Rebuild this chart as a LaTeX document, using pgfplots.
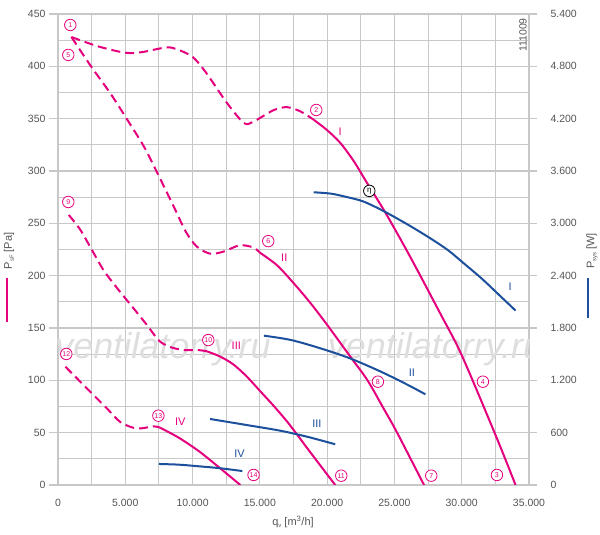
\documentclass[border=0pt]{standalone}
\usepackage{pgfplots}
\pgfplotsset{compat=1.18}
\usepackage{fontspec}
\setmainfont{Liberation Sans}
\definecolor{mag}{HTML}{E5007D}
\definecolor{blu}{HTML}{1C4F9C}
\definecolor{gridc}{HTML}{C8C8C8}
\definecolor{txt}{HTML}{555555}
\tikzset{
 clab/.style={draw=mag, fill=white, circle, inner sep=0pt, minimum size=11.5pt, line width=0.8pt, text=mag, font=\fontsize{7}{7}\selectfont},
 elab/.style={draw=black, fill=white, circle, inner sep=0pt, minimum size=11.5pt, line width=0.8pt, text=black, font=\fontsize{8}{8}\selectfont},
 rlab/.style={font=\fontsize{11}{11}\selectfont},
}
\pgfplotsset{
 common/.style={
  scale only axis, width=471pt, height=471pt,
  xmin=0, xmax=35000, scaled ticks=false,
  /pgf/number format/1000 sep={.}, /pgf/number format/assume math mode=true,
  tick label style={font=\fontsize{10.5}{12}\selectfont, text=txt},
  axis line style={draw=none},
  tick align=outside,
 },
 pk/.style={mag, line width=2pt, smooth, no markers},
 pkd/.style={mag, line width=2pt, smooth, no markers, dash pattern=on 9pt off 5pt},
 bl/.style={blu, line width=2pt, smooth, no markers},
}
\begin{document}
\begin{tikzpicture}[x=1pt,y=1pt]
\begin{axis}[common, name=ax,
 ymin=0, ymax=450,
 xtick={0,5000,...,35000}, minor xtick={2500,7500,...,32500},
 ytick={0,50,...,450}, minor ytick={25,75,...,425},
 grid=both, major grid style={gridc, line width=1.1pt}, minor grid style={gridc, line width=1.1pt},
 ytick pos=left, xtick pos=bottom,
 x tick style={draw=none}, y tick style={gridc, line width=1.1pt},
 major tick length=9pt, minor tick length=0pt,
 xticklabel style={yshift=-2pt},
]
\node[font=\itshape\fontsize{36}{36}\selectfont, text=black!13] at (axis cs:7800,130) {ventilatorry.ru};
\node[font=\itshape\fontsize{36}{36}\selectfont, text=black!13] at (axis cs:28050,130) {ventilatorry.ru};
% curve I
\addplot[pkd] coordinates {(1000,428) (3000,419) (5000,413) (6200,413.5) (8000,418) (8800,416.5) (10000,409) (11000,394) (12500,366) (13800,346) (14500,347) (16000,358) (17000,361) (18000,357) (19000,349)};
\addplot[pk] coordinates {(19000,349) (20000,339) (21000,326.5) (22000,309) (22850,291) (24200,263) (25400,236) (26550,209) (28400,164) (30000,124) (32600,45) (34000,0)};
% curve II
\addplot[pkd] coordinates {(1000,428) (2400,401) (3900,374) (5100,350) (6400,323) (7500,295) (8600,266) (9500,242) (10300,228) (11300,221) (12300,223) (13500,229) (14500,227) (15000,222)};
\addplot[pk] coordinates {(15000,222) (16270,210) (17500,193) (18750,174) (20000,153) (21700,123) (23000,100) (24200,73) (25200,50) (27200,0)};
% curve III
\addplot[pkd] coordinates {(800,258) (1650,244) (2500,225) (3400,205) (4400,188) (5600,169) (6600,153) (7500,138) (8300,132) (9300,129) (10300,129) (11000,128)};
\addplot[pk] coordinates {(11000,128) (12000,123) (13000,115.5) (14000,104) (15000,90) (16000,76) (17000,61) (17600,51) (19000,27) (20600,0)};
% curve IV
\addplot[pkd] coordinates {(550,113) (1400,102) (2400,89) (3650,73) (4650,60) (5850,54) (7100,56) (7550,55)};
\addplot[pk] coordinates {(7550,55) (9000,45) (10500,32) (12000,16.5) (13550,0)};
% labels
\node[clab] at (axis cs:914,439.5) {1};
\node[clab] at (axis cs:766,410.9) {5};
\node[clab] at (axis cs:19193,358.3) {2};
\node[clab] at (axis cs:15625,233) {6};
\node[clab] at (axis cs:766,270.4) {9};
\node[clab] at (axis cs:11168,138.5) {10};
\node[clab] at (axis cs:617,125.2) {12};
\node[clab] at (axis cs:7459,66.2) {13};
\node[clab] at (axis cs:14532,9.6) {14};
\node[clab] at (axis cs:21048,8.9) {11};
\node[clab] at (axis cs:27737,8.9) {7};
\node[clab] at (axis cs:32617,9.6) {3};
\node[clab] at (axis cs:23774,98.7) {8};
\node[clab] at (axis cs:31575,98.7) {4};
\node[elab] at (axis cs:23134,281) {η};
\node[rlab, text=mag] at (axis cs:20975,337.3) {I};
\node[rlab, text=mag] at (axis cs:16815,217) {II};
\node[rlab, text=mag] at (axis cs:13250,132.8) {III};
\node[rlab, text=mag] at (axis cs:9085,60.5) {IV};
\node[rlab, text=blu] at (axis cs:33605,189.5) {I};
\node[rlab, text=blu] at (axis cs:26300,107.7) {II};
\node[rlab, text=blu] at (axis cs:19243,59) {III};
\node[rlab, text=blu] at (axis cs:13497,29.6) {IV};
\end{axis}
\begin{axis}[common,
 at={(ax.south west)}, anchor=south west,
 ymin=0, ymax=5400,
 xtick=\empty, ytick pos=right,
 ytick={0,600,...,5400},
 y tick style={gridc, line width=1.1pt}, major tick length=8pt,
 yticklabel style={xshift=10pt},
]
\addplot[bl] coordinates {(19000,3356) (20300,3340) (21500,3300) (22700,3250) (24200,3140) (26000,2985) (27650,2830) (29000,2690) (30150,2542) (31500,2365) (32600,2205) (34000,2000)};
\addplot[bl] coordinates {(15300,1712) (17300,1663) (19500,1567) (21700,1452) (24000,1299) (26000,1147) (27300,1040)};
\addplot[bl] coordinates {(11300,757) (14000,688) (16500,623) (18500,554) (20600,467)};
\addplot[bl] coordinates {(7500,241) (9000,233) (10500,214) (12000,193) (13700,160)};
\end{axis}
\begin{scope}[shift={(ax.south west)}]
\node[rotate=90, text=txt, font=\fontsize{11}{12}\selectfont] at (-49,234) {P\raisebox{-2pt}{\fontsize{6}{6}\selectfont sF} [Pa]};
\draw[mag, line width=1.6pt] (-51,207) -- (-51,163);
\node[rotate=90, text=txt, font=\fontsize{11}{12}\selectfont] at (534,234) {P\raisebox{-2pt}{\fontsize{6}{6}\selectfont sys} [W]};
\draw[blu, line width=1.6pt] (530,207) -- (530,167);
\node[text=txt, font=\fontsize{11}{12}\selectfont] at (235,-37) {q\raisebox{-2pt}{\fontsize{6}{6}\selectfont v} [m\textsuperscript{3}/h]};
\node[rotate=90, text=txt, font=\fontsize{10.5}{12}\selectfont] at (465,450) {111009};
\end{scope}
\pgfresetboundingbox
\path[use as bounding box] ([shift={(-58,-50)}]ax.south west) rectangle ([shift={(542,485)}]ax.south west);
\end{tikzpicture}
\end{document}
